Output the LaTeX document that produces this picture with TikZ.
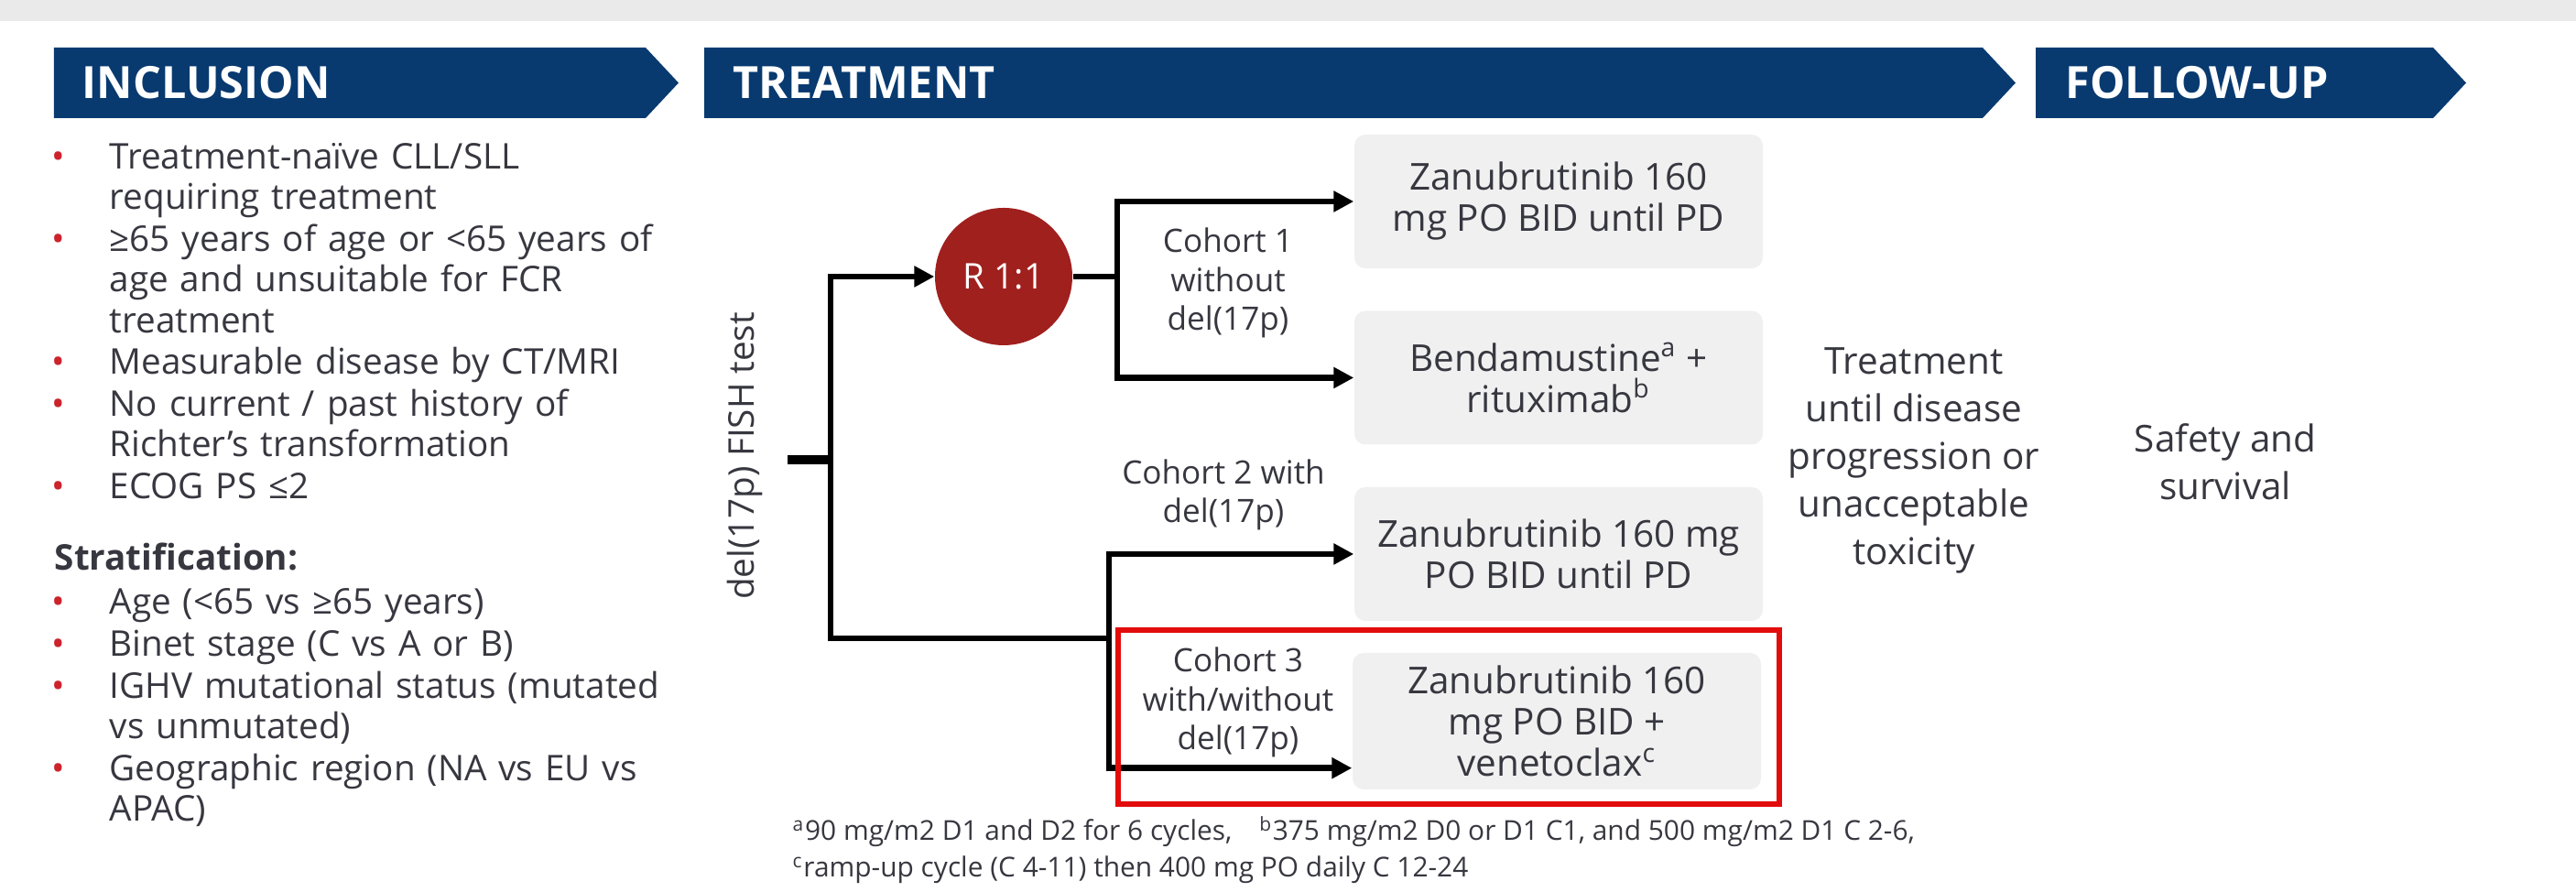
\documentclass[tikz,border=0pt]{standalone}
\usepackage{fontspec}
\setmainfont{Open Sans}
\usetikzlibrary{positioning, arrows.meta, calc}
\definecolor{navy}{RGB}{8,58,112}
\definecolor{ink}{RGB}{55,55,64}
\definecolor{boxgrey}{RGB}{240,240,240}
\definecolor{bandgrey}{RGB}{234,234,234}
\definecolor{randred}{RGB}{160,32,30}
\definecolor{hired}{RGB}{226,12,12}
\definecolor{dotred}{RGB}{205,35,45}
\newcommand{\bul}{\llap{\textcolor{dotred}{\textbullet}\hspace{0.49cm}}}

\begin{document}
\begin{tikzpicture}[
    every node/.style={text=ink},
    phase/.style={anchor=west, inner sep=0pt, text=white, font=\fontsize{13.8}{16}\selectfont\bfseries},
    crit/.style={anchor=north west, inner sep=0pt, text width=7.2cm, align=left,
        font=\fontsize{11}{12.6}\selectfont, execute at begin node=\strut, execute at end node=\strut},
    arm/.style={fill=boxgrey, rounded corners=0.12cm, minimum width=4.46cm, minimum height=1.46cm,
        align=center, font=\fontsize{11.5}{12.8}\selectfont},
    cohort/.style={align=center, font=\fontsize{10}{12}\selectfont},
    note/.style={align=center, font=\fontsize{11.5}{14.8}\selectfont},
    link/.style={line width=1.9pt},
    go/.style={link, -{Triangle[length=0.22cm, width=0.22cm]}},
]
\useasboundingbox (0,0) rectangle (28.13,9.74);
\fill[bandgrey] (0,9.51) rectangle (28.13,9.74);

\fill[navy] (0.59,8.45) -- (7.05,8.45) -- (7.41,8.835) -- (7.05,9.22) -- (0.59,9.22) -- cycle;
\node[phase] (inclusion) at (0.89,8.835) {INCLUSION};
\fill[navy] (7.69,8.45) -- (21.65,8.45) -- (22.01,8.835) -- (21.65,9.22) -- (7.69,9.22) -- cycle;
\node[phase] (treatment) at (8.00,8.835) {TREATMENT};
\fill[navy] (22.23,8.45) -- (26.57,8.45) -- (26.93,8.835) -- (26.57,9.22) -- (22.23,9.22) -- cycle;
\node[phase] (followup) at (22.55,8.835) {FOLLOW-UP};

\node[crit] (c1) at (1.19,8.21) {\bul Treatment-naïve CLL/SLL\\requiring treatment};
\node[crit, below=0pt of c1] (c2) {\bul ≥65 years of age or <65 years of\\age and unsuitable for FCR\\treatment};
\node[crit, below=0pt of c2] (c3) {\bul Measurable disease by CT/MRI};
\node[crit, below=0pt of c3] (c4) {\bul No current / past history of\\Richter's transformation};
\node[crit, below=0pt of c4] (c5) {\bul ECOG PS ≤2};
\node[crit, below=0.32cm of c5, xshift=-0.6cm] (strat) {\bfseries Stratification:};
\node[crit, below=0.03cm of strat, xshift=0.6cm] (s1) {\bul Age (<65 vs ≥65 years)};
\node[crit, below=0pt of s1] (s2) {\bul Binet stage (C vs A or B)};
\node[crit, below=0pt of s2] (s3) {\bul IGHV mutational status (mutated\\vs unmutated)};
\node[crit, below=0pt of s3] (s4) {\bul Geographic region (NA vs EU vs\\APAC)};

\node[rotate=90, font=\fontsize{11}{13}\selectfont] (fish) at (8.13,4.76) {del(17p) FISH test};
\node[circle, fill=randred, minimum size=1.5cm, text=white, font=\fontsize{11}{13}\selectfont] (rand) at (10.96,6.72) {R 1:1};

\node[arm] (arm1) at (17.02,7.54) {Zanubrutinib 160\\mg PO BID until PD};
\node[arm] (arm2) at (17.02,5.615) {Bendamustine\textsuperscript{a} +\\rituximab\textsuperscript{b}};
\node[arm] (arm3) at (17.02,3.69) {Zanubrutinib 160 mg\\PO BID until PD};
\node[arm, minimum height=1.49cm] (arm4) at (17.00,1.865) {Zanubrutinib 160\\mg PO BID +\\venetoclax\textsuperscript{c}};

\node[cohort] (coh1) at (13.41,6.65) {Cohort 1\\without\\del(17p)};
\node[cohort] (coh2) at (13.36,4.34) {Cohort 2 with\\del(17p)};
\node[cohort] (coh3) at (13.52,2.07) {Cohort 3\\with/without\\del(17p)};

\coordinate (stub) at (8.60,4.72);
\coordinate (trunk) at (9.07,4.72);
\coordinate (low) at (9.07,2.77);
\coordinate (split1) at (12.20,6.72);
\coordinate (split2) at (12.11,2.77);
\coordinate (in4) at ($(arm4.south west)+(0,0.24)$);

\draw[line width=2.8pt] (stub) -- (trunk);
\draw[go] (split2) -- (low) |- (rand);
\draw[go] (rand) -- (split1) |- (arm1);
\draw[go] (split1) |- (arm2);
\draw[go] (split2) |- (arm3);
\draw[go] (split2) |- (in4);

\draw[hired, line width=1.7pt] (12.21,0.96) rectangle (19.43,2.86);

\node[note] (until) at (20.90,4.71) {Treatment\\until disease\\progression or\\unacceptable\\toxicity};
\node[note] (outcome) at (24.30,4.70) {Safety and\\survival};

\node[anchor=north west, inner sep=0pt, align=left, font=\fontsize{8.5}{11.3}\selectfont] (notes) at (8.65,0.85)
    {\strut\textsuperscript{a}90 mg/m2 D1 and D2 for 6 cycles,\quad\textsuperscript{b}375 mg/m2 D0 or D1 C1, and 500 mg/m2 D1 C 2-6,\\\textsuperscript{c}ramp-up cycle (C 4-11) then 400 mg PO daily C 12-24};
\end{tikzpicture}
\end{document}
